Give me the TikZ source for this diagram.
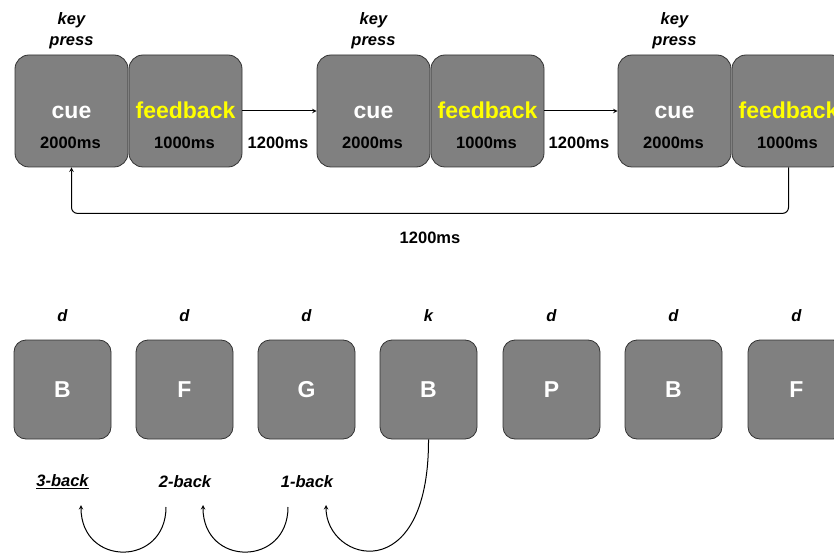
\documentclass[tikz,border=0pt]{standalone}
\usepackage{xcolor}
\usepackage{fontspec}
\setmainfont{Liberation Sans}
\usepackage{tikz}
\usetikzlibrary{shapes,arrows,positioning,calc}
\definecolor{boxgray}{RGB}{128,128,128}
\definecolor{fbyellow}{RGB}{255,255,0}

\begin{document}
\begin{tikzpicture}[x=1pt, y=-1pt,
    stim/.style={rectangle, draw=black!80, line width=0.8pt, fill=boxgray, rounded corners=14pt,
                 minimum width=113pt, minimum height=112pt, text=white,
                 text height=15pt, text depth=0pt,
                 font=\fontsize{23}{27}\selectfont\bfseries},
    fbk/.style={stim, text=fbyellow},
    letter/.style={stim, minimum width=97pt, minimum height=99pt, rounded corners=12pt},
    dur/.style={font=\fontsize{16.5}{19}\selectfont\bfseries},
    tag/.style={align=center, font=\fontsize{16.5}{21}\selectfont\bfseries\itshape},
    arrow/.style={->, line width=1pt, >=stealth}
]
\useasboundingbox (0,0) rectangle (834,553);
\clip (0,0) rectangle (834,553);

% top row: trials
\node[stim] (c1) at (71.5,111) {cue};
\node[fbk] (f1) at (185.5,111) {feedback};
\node[stim] (c2) at (373.5,111) {cue};
\node[fbk] (f2) at (487.5,111) {feedback};
\node[stim] (c3) at (674.5,111) {cue};
\node[fbk] (f3) at (788.5,111) {feedback};

\node[dur] (d1) at (70.5,143) {2000ms};
\node[dur] (d2) at (184.5,143) {1000ms};
\node[dur] (d3) at (372.5,143) {2000ms};
\node[dur] (d4) at (486.5,143) {1000ms};
\node[dur] (d5) at (673.5,143) {2000ms};
\node[dur] (d6) at (787.5,143) {1000ms};

\node[tag] (k1) at (71.5,31) {key\\press};
\node[tag] (k2) at (373.5,31) {key\\press};
\node[tag] (k3) at (674.5,31) {key\\press};

\node[dur] (i1) at (278,143) {1200ms};
\node[dur] (i2) at (579,143) {1200ms};
\node[dur] (i3) at (430,238) {1200ms};

\draw[arrow] (f1) -- (c2);
\draw[arrow] (f2) -- (c3);
\draw[arrow, rounded corners=6pt] (f3.south) -- ++(0,46) -| (c1.south);

% bottom row: letter stream
\node[letter] (b1) at (62.5,389.5) {B};
\node[letter] (b2) at (184.5,389.5) {F};
\node[letter] (b3) at (306.5,389.5) {G};
\node[letter] (b4) at (428.5,389.5) {B};
\node[letter] (b5) at (551.5,389.5) {P};
\node[letter] (b6) at (673.5,389.5) {B};
\node[letter] (b7) at (796.5,389.5) {F};

\node[tag] (r1) at (62.5,316) {d};
\node[tag] (r2) at (184.5,316) {d};
\node[tag] (r3) at (306.5,316) {d};
\node[tag] (r4) at (428.5,316) {k};
\node[tag] (r5) at (551.5,316) {d};
\node[tag] (r6) at (673.5,316) {d};
\node[tag] (r7) at (796.5,316) {d};

\node[tag] (n3) at (62.5,482) {\underline{3-back}};
\node[tag] (n2) at (185,482) {2-back};
\node[tag] (n1) at (307,482) {1-back};

\coordinate (e1) at (326,505);
\coordinate (s2) at (288,507);
\coordinate (e2) at (203,505);
\coordinate (s3) at (166,507);
\coordinate (e3) at (81,505);

\draw[arrow] (b4.south) .. controls (429,590) and (326,562) .. (e1);
\draw[arrow] (s2) .. controls (288,567) and (203,567) .. (e2);
\draw[arrow] (s3) .. controls (166,567) and (81,567) .. (e3);

\end{tikzpicture}
\end{document}
